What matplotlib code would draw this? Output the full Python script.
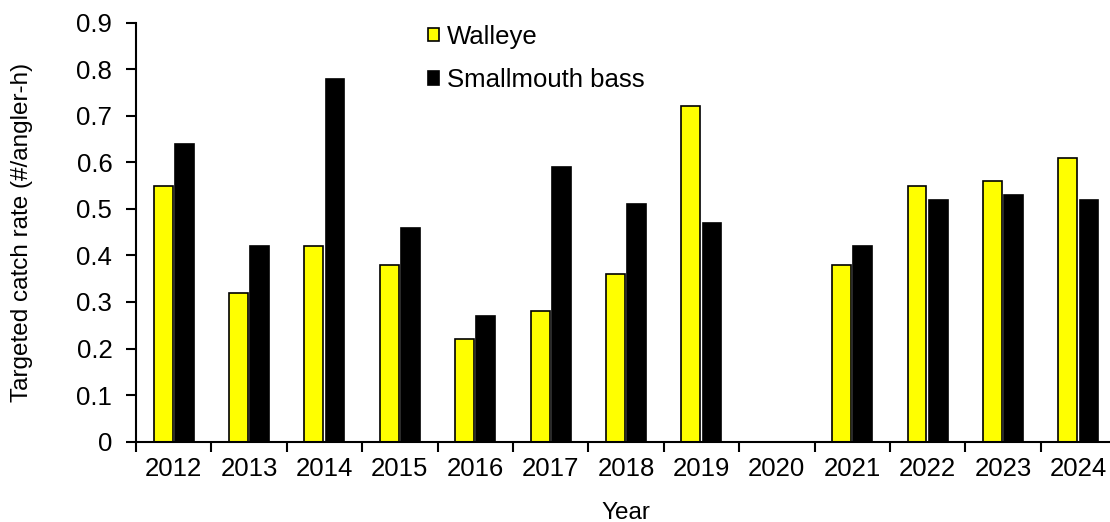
import numpy as np
import matplotlib
matplotlib.use("Agg")
import matplotlib.pyplot as plt

plt.rcParams['font.family'] = ['Liberation Sans', 'DejaVu Sans']

# Dados
years = ["2012", "2013", "2014", "2015", "2016", "2017", "2018",
         "2019", "2020", "2021", "2022", "2023", "2024"]
walleye = [0.55, 0.32, 0.42, 0.38, 0.22, 0.28, 0.36, 0.72, np.nan, 0.38, 0.55, 0.56, 0.61]
smallmouth = [0.64, 0.42, 0.78, 0.46, 0.27, 0.59, 0.51, 0.47, np.nan, 0.42, 0.52, 0.53, 0.52]

fig = plt.figure(figsize=(11.1, 5.22), dpi=100)
ax = fig.add_axes([0.1225, 0.154, 0.883, 0.8025])

x = np.arange(len(years))
w = 0.25
off = 0.14
ax.bar(x - off, walleye, w, color="#FFFF00", edgecolor="black", linewidth=1.2, label="Walleye")
ax.bar(x + off, smallmouth, w, color="black", edgecolor="black", linewidth=1.2, label="Smallmouth bass")

ax.set_xlim(-0.5, len(years) - 0.5)
ax.set_ylim(0, 0.9)
ax.set_yticks(np.arange(0, 0.91, 0.1))
ax.set_yticklabels(["0"] + [f"{v:.1f}" for v in np.arange(0.1, 0.91, 0.1)])

# rótulos centrados, ticks nas fronteiras
ax.set_xticks(x)
ax.set_xticklabels(years)
ax.set_xticks(np.arange(-0.5, len(years), 1), minor=True)
ax.tick_params(axis="x", which="major", length=0, pad=11, labelsize=18.5)
ax.tick_params(axis="x", which="minor", length=7, width=1.5, direction="out")
ax.tick_params(axis="y", length=7, width=1.5, direction="out", labelsize=18.5, pad=10)

for s in ["top", "right"]:
    ax.spines[s].set_visible(False)
for s in ["left", "bottom"]:
    ax.spines[s].set_linewidth(1.5)

ax.set_xlabel("Year", fontsize=17.5, labelpad=15)
ax.set_ylabel("Targeted catch rate (#/angler-h)", fontsize=17.5, labelpad=31)

ax.legend(loc="upper left", bbox_to_anchor=(0.287, 1.02), frameon=False, fontsize=18.5,
          handlelength=0.45, handleheight=0.45, handletextpad=0.3, labelspacing=0.75,
          borderaxespad=0)

fig.savefig("out.png", dpi=100)
